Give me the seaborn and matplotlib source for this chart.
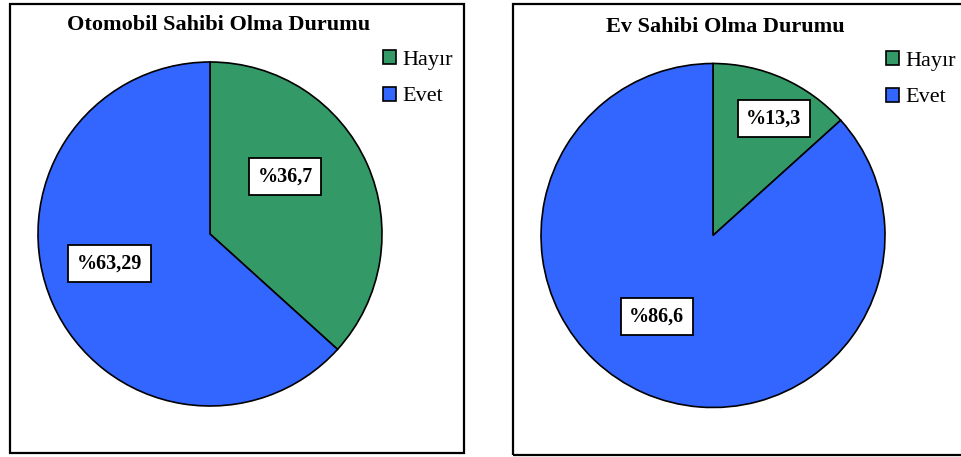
import matplotlib
matplotlib.use("Agg")
import matplotlib.pyplot as plt
import seaborn as sns
import numpy as np
from matplotlib.patches import Rectangle

# data
categories = ["Hayır", "Evet"]
car_values = [36.7, 63.29]
home_values = [13.3, 86.6]
titles = ["Otomobil Sahibi Olma Durumu", "Ev Sahibi Olma Durumu"]

colors = ["#339966", "#3366FF"]

sns.set_style("white")
plt.rcParams["font.family"] = ["Liberation Serif", "DejaVu Serif"]
plt.rcParams["text.color"] = "black"

W, H = 961, 457
fig = plt.figure(figsize=(W / 100, H / 100), dpi=100)

# panel layout in pixels: pie centre, radius, frame, title, legend, label placement
panels = [
    dict(values=car_values, title=titles[0], cx=210, cy=234, r=172,
         frame=(10, 4, 464, 453), title_x=219, title_base=30,
         leg_x=383, leg_y=50, lab=[(0.60, 0.55), (0.467, 0.61)]),
    dict(values=home_values, title=titles[1], cx=713, cy=235.5, r=172,
         frame=(513, 4, 975, 455), title_x=725, title_base=32,
         leg_x=886, leg_y=51, lab=[(0.424, 0.765), (0.466, 0.575)]),
]


def fx(px):
    return px / W


def fy(py):
    return 1 - py / H


for p in panels:
    x0, y0, x1, y1 = p["frame"]
    fig.patches.append(Rectangle((fx(x0), fy(y1)), fx(x1 - x0), (y1 - y0) / H,
                                 transform=fig.transFigure, fill=False,
                                 ec="black", lw=1.6, zorder=0))

    r = p["r"]
    ax = fig.add_axes([fx(p["cx"] - r), fy(p["cy"] + r), fx(2 * r), 2 * r / H])
    wedges, _ = ax.pie(p["values"], colors=colors, startangle=90, counterclock=False,
                       wedgeprops=dict(edgecolor="black", linewidth=1.2))
    for w in wedges:
        w.set_clip_on(False)
    ax.set_xlim(-1, 1)
    ax.set_ylim(-1, 1)
    ax.set_aspect("equal")
    ax.axis("off")

    # percentage labels inside white boxes
    for w, v, (frac, dist) in zip(wedges, p["values"], p["lab"]):
        ang = np.deg2rad(w.theta1 + frac * (w.theta2 - w.theta1))
        txt = "%" + str(v).replace(".", ",")
        ax.text(dist * np.cos(ang), dist * np.sin(ang), txt, ha="center", va="center",
                fontsize=14.5, fontweight="bold", color="black",
                bbox=dict(boxstyle="square,pad=0.42", fc="white", ec="black", lw=1.3))

    fig.text(fx(p["title_x"]), fy(p["title_base"]), p["title"], ha="center",
             va="baseline", fontsize=16, fontweight="bold", color="black")

    leg = fig.legend(wedges, categories, loc="upper left",
                     bbox_to_anchor=(fx(p["leg_x"]), fy(p["leg_y"])),
                     bbox_transform=fig.transFigure, frameon=False, fontsize=16,
                     handlelength=0.6, handleheight=0.6, handletextpad=0.25,
                     labelspacing=0.75, borderpad=0, borderaxespad=0)
    for t in leg.get_texts():
        t.set_color("black")

fig.savefig("out.png", dpi=100)
